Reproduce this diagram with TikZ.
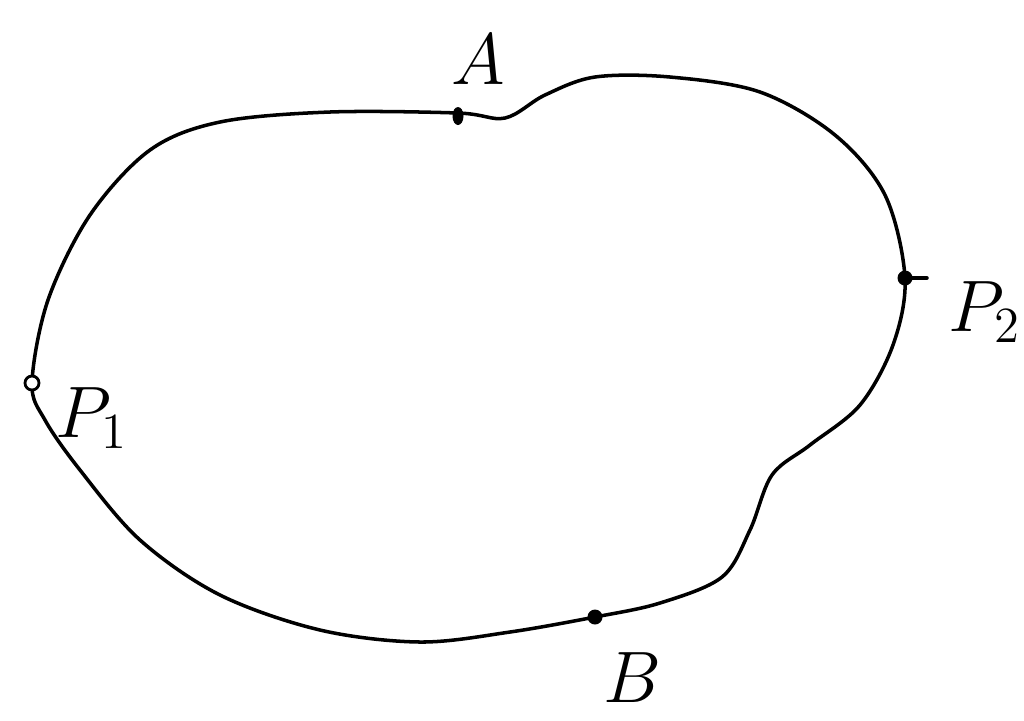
\documentclass[tikz,border=0pt]{standalone}
\usepackage{amsmath}
\usepackage{tikz}
\usetikzlibrary{positioning,shapes.geometric}

\begin{document}
\begin{tikzpicture}[
  x=0.01cm, y=-0.01cm,
  curve/.style={line width=1pt,line cap=round,line join=round},
  pt/.style={circle,fill=black,inner sep=0pt,minimum size=1.5mm},
  opt/.style={circle,draw,fill=white,line width=0.8pt,inner sep=0pt,minimum size=1.4mm},
  lbl/.style={font=\huge}
]
\useasboundingbox (0,0) rectangle (1024,720);
% closed boundary
\draw[curve] plot[smooth cycle,tension=0.55] coordinates {
  (32,383) (48,300) (90,215) (150,150) (220,122) (330,112) (458,113)
  (505,118) (545,95) (595,77) (670,77) (760,92) (835,135) (885,195)
  (905,278) (893,345) (860,405) (810,445) (772,475) (750,530)
  (722,577) (660,603) (595,617) (510,632) (420,642) (320,630)
  (220,595) (140,540) (80,470) (45,420)};
% marked points
\node[pt,ellipse,minimum width=1.1mm,minimum height=1.8mm] (a) at (458,116) {};
\node[pt] (b) at (595,617) {};
\node[pt] (p2) at (905,278) {};
\node[opt] (p1) at (32,383) {};
\draw[curve] (p2.center) -- ++(22,0);
% labels
\node[lbl] (la) at (478,60) {$A$};
\node[lbl] (lb) at (632,678) {$B$};
\node[lbl] (lp1) at (92,418) {$P_1$};
\node[lbl] (lp2) at (985,312) {$P_2$};
\end{tikzpicture}
\end{document}
